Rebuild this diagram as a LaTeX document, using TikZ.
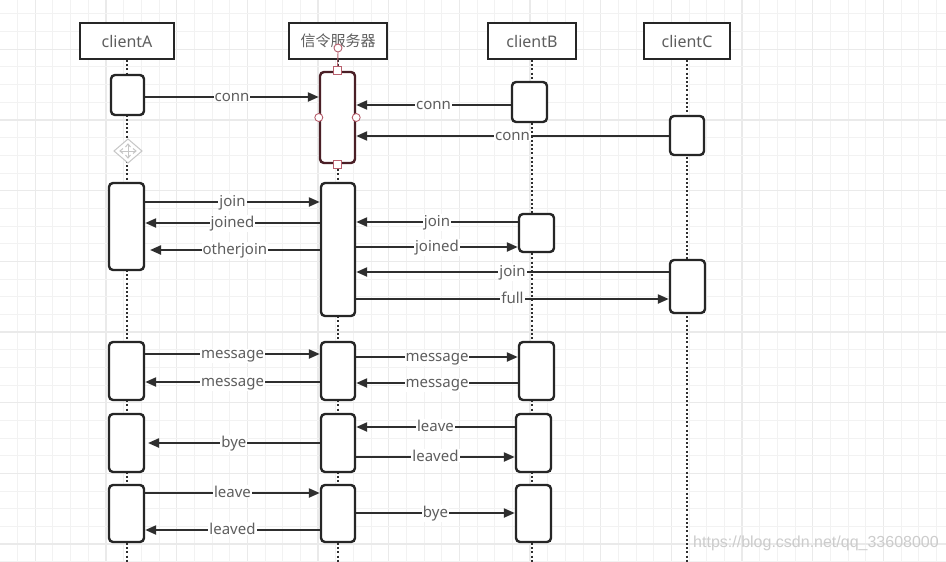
\documentclass[tikz,border=0pt]{standalone}
\usepackage{fontspec}
\setmainfont{Noto Sans}
\newfontfamily\cjk{Noto Sans CJK SC}
\newfontfamily\wmfont{Liberation Sans}
\usetikzlibrary{arrows.meta,calc}
\definecolor{ln}{HTML}{2E2E2E}
\definecolor{bx}{HTML}{262626}
\definecolor{txt}{HTML}{5E5E5E}
\definecolor{gmin}{HTML}{F2F2F2}
\definecolor{gmaj}{HTML}{EAEAEA}
\definecolor{selb}{HTML}{4A1F26}
\definecolor{hdl}{HTML}{B8606E}
\begin{document}
\begin{tikzpicture}[x=1pt,y=-1pt,
  gridminor/.style={draw=gmin, line width=1pt},
  gridmajor/.style={draw=gmaj, line width=1.3pt},
  hdr/.style={draw=bx, line width=2pt, fill=white, minimum height=36pt, inner sep=0pt, text=txt, font=\fontsize{16}{19}\selectfont},
  act/.style={draw=bx, line width=2.4pt, fill=white, rounded corners=4pt, inner sep=0pt},
  life/.style={draw=ln, line width=2pt, dash pattern=on 2pt off 2.2pt},
  msg/.style={draw=ln, line width=2.2pt, -{Triangle[length=11pt,width=9pt]}},
  lbl/.style={fill=white, inner xsep=1pt, inner ysep=1pt, anchor=base, yshift=-4.2pt, text=txt, font=\fontsize{15}{18}\selectfont},
  handlec/.style={draw=hdl, fill=white, line width=0.9pt},
  ]
\useasboundingbox (0,0) rectangle (946,562);
\fill[white] (0,0) rectangle (946,562);
% grid
\foreach \i in {-2,...,51} {
  \pgfmathsetmacro{\gx}{35.33+17.667*\i}
  \pgfmathtruncatemacro{\m}{mod(\i+8,4)}
  \ifnum\m=0 \draw[gridmajor] (\gx,0) -- (\gx,562); \else \draw[gridminor] (\gx,0) -- (\gx,562); \fi
}
\foreach \i in {-3,...,29} {
  \pgfmathsetmacro{\gy}{49.33+17.667*\i}
  \pgfmathtruncatemacro{\m}{mod(\i+8,4)}
  \ifnum\m=0 \draw[gridmajor] (0,\gy) -- (946,\gy); \else \draw[gridminor] (0,\gy) -- (946,\gy); \fi
}
% headers
\node[hdr, minimum width=94pt] (hA) at (127,41) {clientA};
\node[hdr, minimum width=98pt] (hS) at (338,41) {\cjk\fontsize{15}{18}\selectfont 信令服务器};
\node[hdr, minimum width=88pt] (hB) at (532,41) {clientB};
\node[hdr, minimum width=86pt] (hC) at (687,41) {clientC};
% lifelines
\coordinate (endA) at (127,562);
\coordinate (endS) at (338,562);
\coordinate (endB) at (532,562);
\coordinate (endC) at (687,562);
\draw[life] (hA.south) -- (endA);
\draw[life] (hS.south) -- (endS);
\draw[life] (hB.south) -- (endB);
\draw[life] (hC.south) -- (endC);
% move icon
\begin{scope}[draw=gray!45, line width=1pt]
\draw[fill=white] (128,139) -- (142,151) -- (128,163) -- (114,151) -- cycle;
\draw (120,151) -- (136,151) (128,144) -- (128,158);
\draw (123,148.5) -- (120,151) -- (123,153.5) (133,148.5) -- (136,151) -- (133,153.5);
\draw (125.5,147) -- (128,144) -- (130.5,147) (125.5,155) -- (128,158) -- (130.5,155);
\end{scope}
% activation boxes row 1
\node[act, minimum width=33pt, minimum height=40pt] (A1) at (127.5,95) {};
\node[act, draw=selb, minimum width=35pt, minimum height=91pt] (S1) at (337.5,117.5) {};
\node[act, minimum width=35pt, minimum height=40pt] (B1) at (529.5,102) {};
\node[act, minimum width=34pt, minimum height=39pt] (C1) at (687,135.5) {};
% row 2
\node[act, minimum width=35pt, minimum height=87pt] (A2) at (126.5,226.5) {};
\node[act, minimum width=34pt, minimum height=133pt] (S2) at (338,249.5) {};
\node[act, minimum width=35pt, minimum height=38pt] (B2) at (536.5,233) {};
\node[act, minimum width=35pt, minimum height=53pt] (C2) at (687.5,286.5) {};
% row 3
\node[act, minimum width=35pt, minimum height=58pt] (A3) at (126.5,371) {};
\node[act, minimum width=34pt, minimum height=58pt] (S3) at (338,371) {};
\node[act, minimum width=35pt, minimum height=58pt] (B3) at (536.5,371) {};
% row 4
\node[act, minimum width=35pt, minimum height=58pt] (A4) at (126.5,443) {};
\node[act, minimum width=34pt, minimum height=58pt] (S4) at (338,443) {};
\node[act, minimum width=35pt, minimum height=58pt] (B4) at (533.5,443) {};
% row 5
\node[act, minimum width=35pt, minimum height=57pt] (A5) at (126.5,513.5) {};
\node[act, minimum width=34pt, minimum height=57pt] (S5) at (338,513.5) {};
\node[act, minimum width=35pt, minimum height=57pt] (B5) at (533.5,513.5) {};
% messages row 1
\draw[msg] (A1.east|-0,97) -- node[lbl]{conn} (S1.west|-0,97);
\draw[msg] (B1.west|-0,105) -- node[lbl]{conn} (S1.east|-0,105);
\draw[msg] (C1.west|-0,136) -- node[lbl]{conn} (S1.east|-0,136);
% row 2
\coordinate (ojend) at (150,250);
\draw[msg] (A2.east|-0,202) -- node[lbl]{join} (S2.west|-0,202);
\draw[msg] (S2.west|-0,223) -- node[lbl]{joined} (A2.east|-0,223);
\draw[msg] (S2.west|-ojend) -- node[lbl]{otherjoin} (ojend);
\draw[msg] (B2.west|-0,222) -- node[lbl]{join} (S2.east|-0,222);
\draw[msg] (S2.east|-0,247) -- node[lbl]{joined} (B2.west|-0,247);
\draw[msg] (C2.west|-0,272) -- node[lbl]{join} (S2.east|-0,272);
\draw[msg] (S2.east|-0,299) -- node[lbl]{full} (C2.west|-0,299);
% row 3
\draw[msg] (A3.east|-0,354) -- node[lbl]{message} (S3.west|-0,354);
\draw[msg] (S3.west|-0,382) -- node[lbl]{message} (A3.east|-0,382);
\draw[msg] (S3.east|-0,357) -- node[lbl]{message} (B3.west|-0,357);
\draw[msg] (B3.west|-0,383) -- node[lbl]{message} (S3.east|-0,383);
% row 4
\coordinate (byeend) at (148,443);
\draw[msg] (S4.west|-byeend) -- node[lbl]{bye} (byeend);
\draw[msg] (B4.west|-0,427) -- node[lbl]{leave} (S4.east|-0,427);
\draw[msg] (S4.east|-0,457) -- node[lbl]{leaved} (B4.west|-0,457);
% row 5
\draw[msg] (A5.east|-0,493) -- node[lbl]{leave} (S5.west|-0,493);
\draw[msg] (S5.west|-0,530) -- node[lbl]{leaved} (A5.east|-0,530);
\draw[msg] (S5.east|-0,513) -- node[lbl]{bye} (B5.west|-0,513);
% selection handles on S1
\draw[hdl, line width=0.9pt] (338,52) -- (S1.north);
\draw[handlec] (338,48) circle (4pt);
\draw[handlec] ($(S1.north)+(-4,-4)$) rectangle ++(8,8);
\draw[handlec] ($(S1.south)+(-4,-4)$) rectangle ++(8,8);
\draw[handlec] (S1.west) circle (4pt);
\draw[handlec] (S1.east) circle (4pt);
% watermark
\node[text=gray!40, font=\wmfont\fontsize{16}{19}\selectfont, inner sep=0pt] (wm) at (816,543) {https://blog.csdn.net/qq\_33608000};
\end{tikzpicture}
\end{document}
